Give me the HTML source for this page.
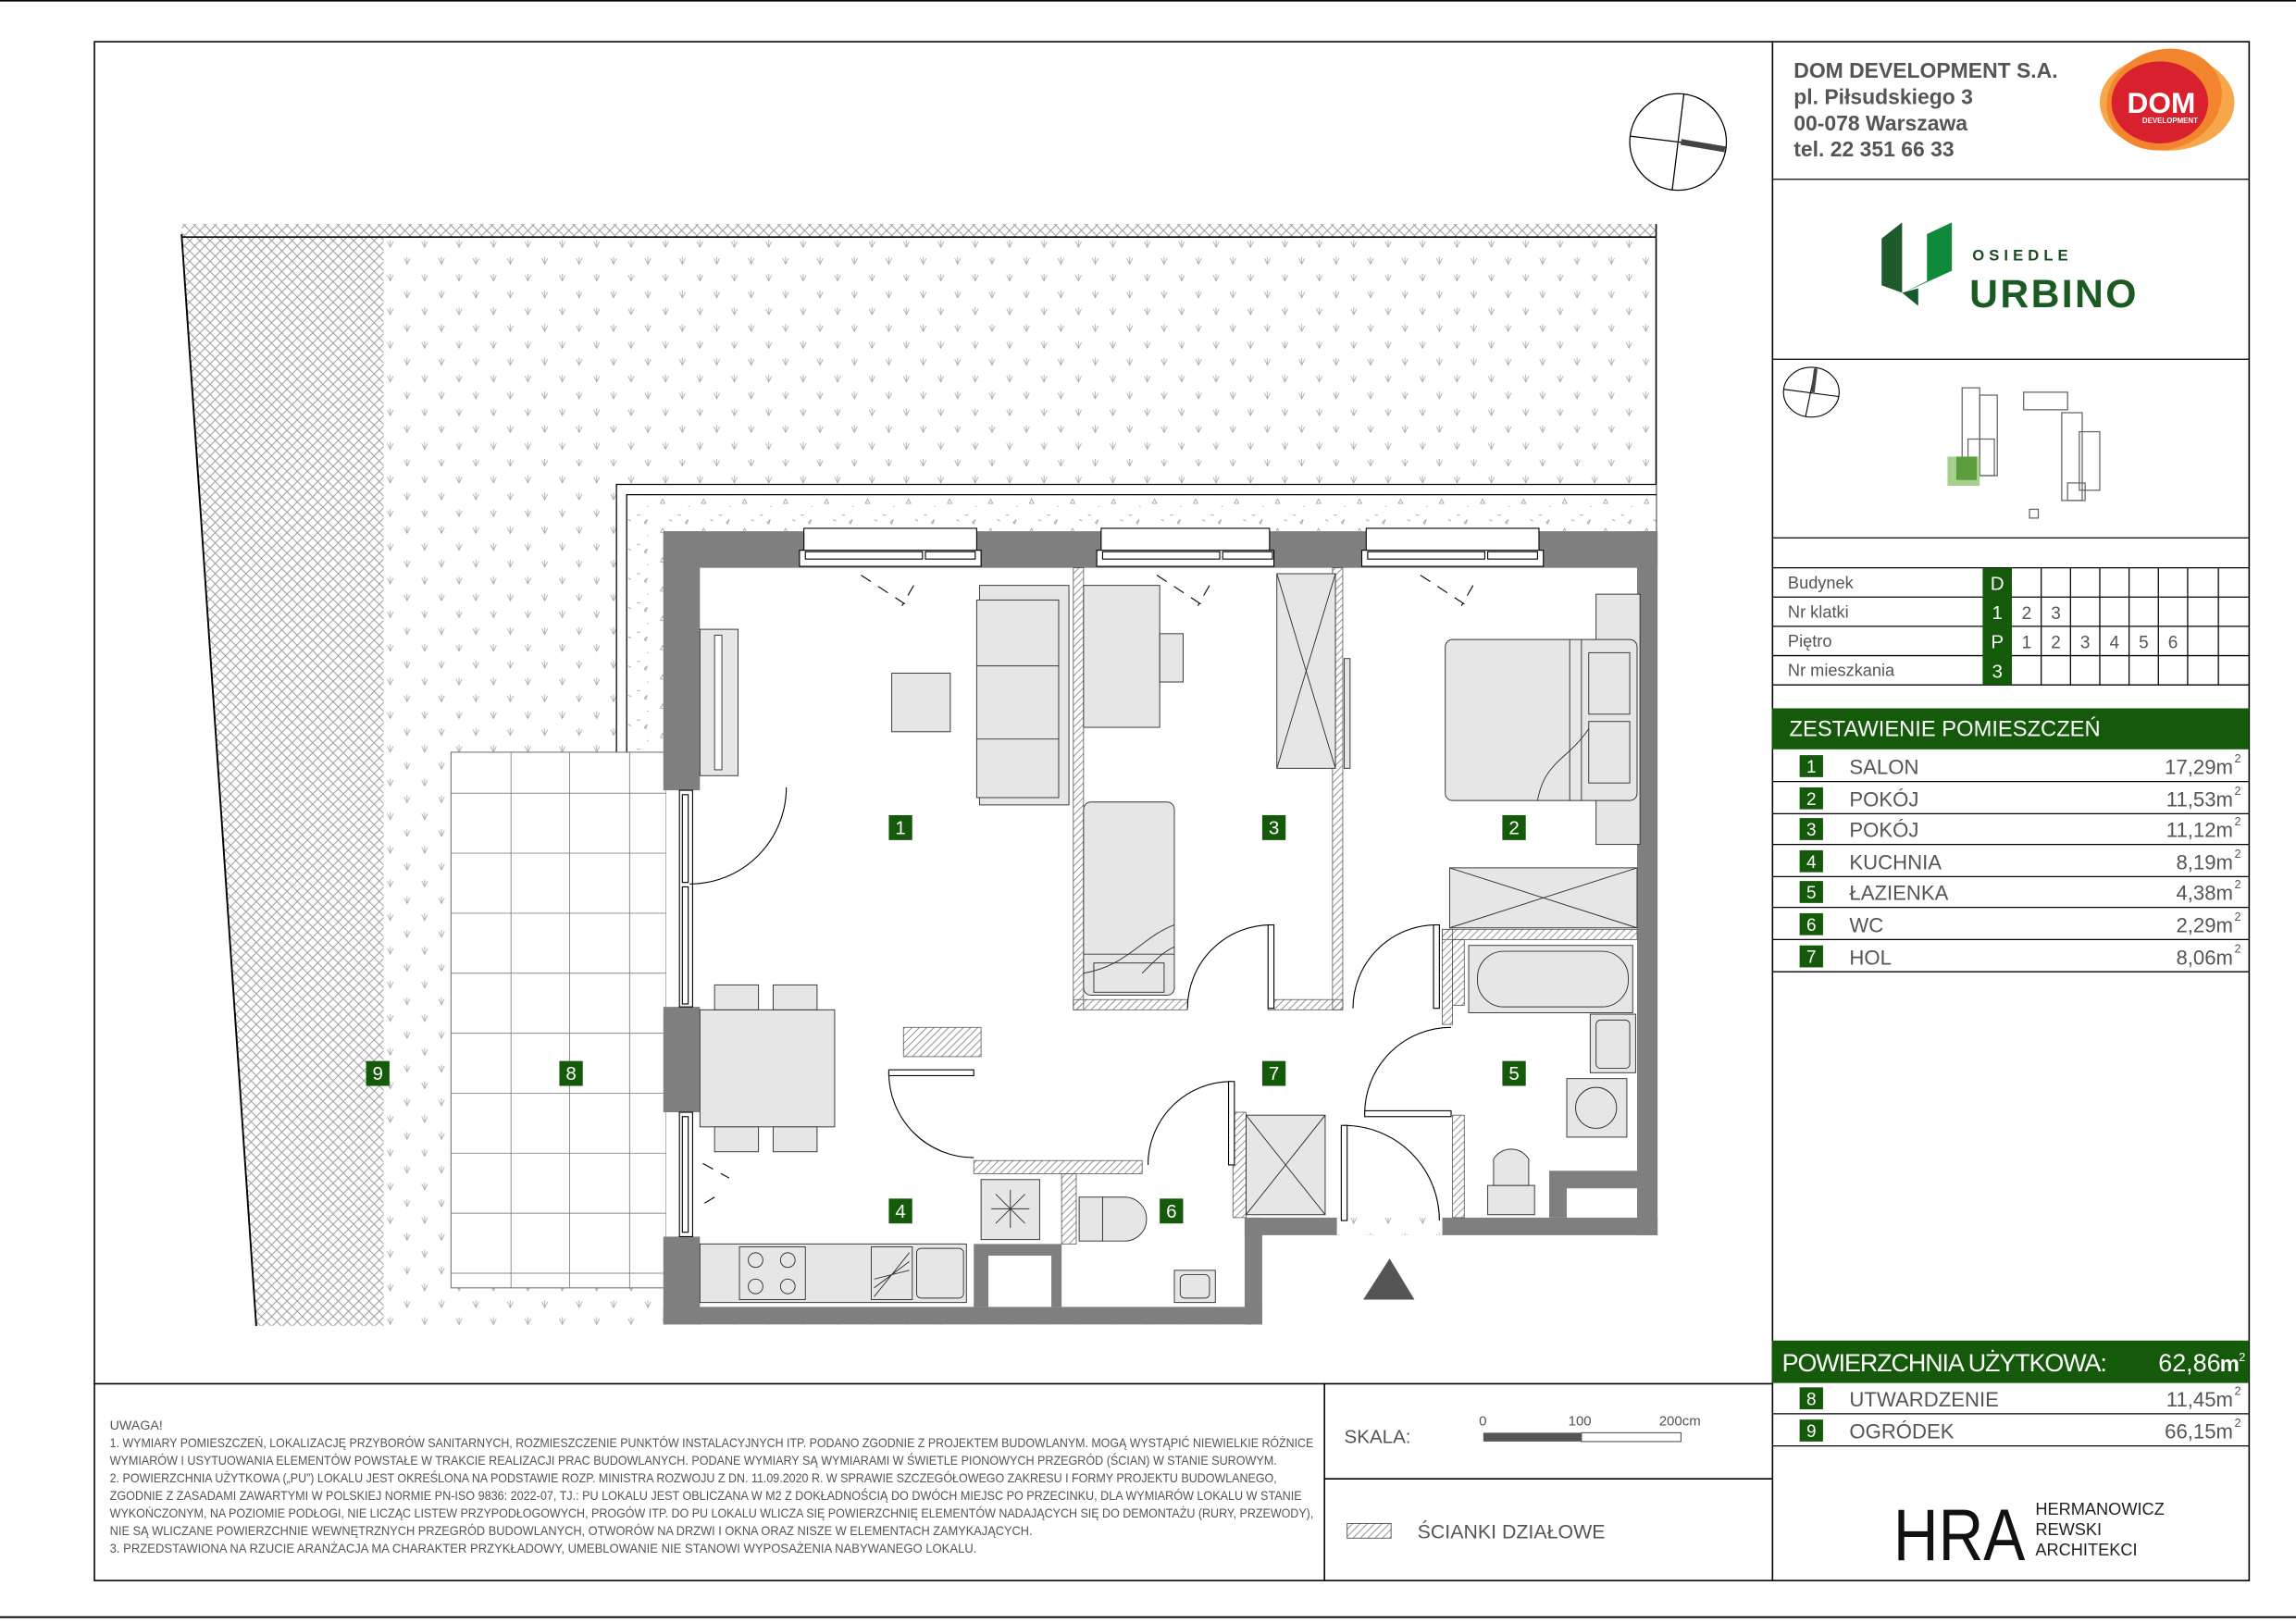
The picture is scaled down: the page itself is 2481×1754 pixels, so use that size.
<!DOCTYPE html>
<html><head><meta charset="utf-8"><style>
html,body{margin:0;padding:0;background:#fff;}
svg{display:block;}
text{font-family:"Liberation Sans",Arial,sans-serif;}
</style></head><body>
<svg width="2481" height="1754" viewBox="0 0 1568 1109" preserveAspectRatio="none" xmlns="http://www.w3.org/2000/svg">
<defs>
<pattern id="xh" width="7" height="7" patternUnits="userSpaceOnUse">
<path d="M0 0L7 7M7 0L0 7" stroke="#9a9a9a" stroke-width="0.6"/></pattern>
<pattern id="grass" width="23.5" height="23" patternUnits="userSpaceOnUse">
<path d="M6 4l2 4 2-4M8 3v5M17.5 15.5l2 4 2-4M19.5 14.5v5" stroke="#aaa" stroke-width="0.55" fill="none"/></pattern>
<pattern id="grav" width="28" height="20" patternUnits="userSpaceOnUse">
<path d="M3 4l3 0-1.5-3zM15 12h2M22 6h1M9 15l2 1M20 17l2-2-1 3z" stroke="#999" stroke-width="0.5" fill="none"/></pattern>
<pattern id="hat" width="5" height="5" patternUnits="userSpaceOnUse">
<path d="M0 5L5 0M-1 1L1 -1M4 6L6 4" stroke="#888" stroke-width="0.6"/></pattern>
</defs>
<rect width="1568" height="1109" fill="#fff"/>
<line x1="0" y1="0.5" x2="1568" y2="0.5" stroke="#000" stroke-width="1"/>
<line x1="0" y1="1105" x2="1568" y2="1105" stroke="#000" stroke-width="1.2"/>
<rect x="64.5" y="28.5" width="1471.5" height="1051.5" fill="none" stroke="#000" stroke-width="1"/>
<line x1="1210.5" y1="28" x2="1210.5" y2="1080" stroke="#000" stroke-width="1"/>
<line x1="64" y1="945.5" x2="1210" y2="945.5" stroke="#000" stroke-width="1"/>
<line x1="904.5" y1="945" x2="904.5" y2="1080" stroke="#000" stroke-width="1"/>
<line x1="904" y1="1010.5" x2="1210" y2="1010.5" stroke="#000" stroke-width="1"/>

<!-- ===== PLAN ===== -->
<rect x="124" y="153" width="1007" height="9" fill="url(#xh)"/>
<polygon points="124,162 262,162 262,906 175,906" fill="url(#xh)"/>
<rect x="262" y="162" width="869" height="744" fill="url(#grass)"/>
<rect x="862" y="844" width="270" height="63" fill="#fff"/>
<line x1="124" y1="162" x2="1131" y2="162" stroke="#000" stroke-width="1"/>
<line x1="124" y1="160" x2="175" y2="906" stroke="#000" stroke-width="1.2"/>
<line x1="1131" y1="153" x2="1131" y2="367" stroke="#000" stroke-width="1"/>
<polygon points="421,514 421,331 1131,331 1131,365 455,365 455,514" fill="#fff"/>
<polygon points="428,514 428,338 1131,338 1131,365 455,365 455,514" fill="url(#grav)"/>
<polyline points="421,514 421,331 1131,331" fill="none" stroke="#000" stroke-width="0.8"/>
<polyline points="428,514 428,338 1131,338" fill="none" stroke="#000" stroke-width="0.8"/>
<rect x="308" y="514" width="147" height="366" fill="#fff" stroke="#777" stroke-width="0.7"/>
<g stroke="#888" stroke-width="0.6">
<line x1="349" y1="514" x2="349" y2="880"/><line x1="389" y1="514" x2="389" y2="880"/><line x1="430" y1="514" x2="430" y2="880"/>
<line x1="308" y1="542" x2="455" y2="542"/><line x1="308" y1="583" x2="455" y2="583"/><line x1="308" y1="624" x2="455" y2="624"/><line x1="308" y1="665" x2="455" y2="665"/><line x1="308" y1="706" x2="455" y2="706"/><line x1="308" y1="747" x2="455" y2="747"/><line x1="308" y1="788" x2="455" y2="788"/><line x1="308" y1="829" x2="455" y2="829"/><line x1="308" y1="870" x2="455" y2="870"/>
</g>
<polygon points="455,363 1132,363 1132,844 985,844 985,832 913,832 913,844 862,844 862,905 455,905" fill="#fff"/>
<g fill="#7f7f7f">
<rect x="453" y="363" width="679" height="25"/>
<rect x="453" y="363" width="25" height="177"/>
<rect x="453" y="688" width="25" height="72"/>
<rect x="453" y="845" width="25" height="60"/>
<rect x="1118" y="363" width="14" height="481"/>
<rect x="985" y="832" width="147" height="12"/>
<rect x="1058" y="800" width="60" height="32"/>
<rect x="850" y="832" width="63" height="12"/>
<rect x="850" y="832" width="12" height="73"/>
<rect x="453" y="893" width="409" height="12"/>
<rect x="665" y="850" width="60" height="43"/>
</g>
<rect x="1070" y="812" width="48" height="20" fill="#fff"/>
<rect x="675" y="858" width="43" height="35" fill="#fff"/>
<g fill="#fff" stroke="#000" stroke-width="0.7">
<rect x="549" y="361" width="118" height="16"/><rect x="546" y="376" width="124" height="11"/>
<rect x="550" y="377" width="80" height="5"/><rect x="632" y="377" width="34" height="5"/>
<rect x="752" y="361" width="115" height="16"/><rect x="749" y="376" width="121" height="11"/>
<rect x="753" y="377" width="80" height="5"/><rect x="835" y="377" width="34" height="5"/>
<rect x="933" y="361" width="118" height="16"/><rect x="930" y="376" width="124" height="11"/>
<rect x="934" y="377" width="80" height="5"/><rect x="1016" y="377" width="34" height="5"/>
<rect x="464" y="540" width="9" height="148"/><rect x="466" y="543" width="4" height="60"/><rect x="466" y="606" width="4" height="80"/>
<rect x="464" y="760" width="9" height="85"/><rect x="466" y="763" width="4" height="79"/>
</g>
<g stroke="#000" stroke-width="0.7" fill="none" stroke-dasharray="8,6">
<path d="M588 393L620 414M624 400L616 414"/><path d="M790 393L822 414M826 400L818 414"/><path d="M970 393L1002 414M1006 400L998 414"/>
<path d="M480 795L498 805M488 818L478 824"/>
</g>
<g fill="url(#hat)" stroke="#555" stroke-width="0.5">
<rect x="733" y="388" width="7" height="302"/>
<rect x="733" y="683" width="78" height="7"/>
<rect x="866" y="683" width="51" height="7"/>
<rect x="910" y="388" width="7" height="302"/>
<rect x="985" y="635" width="133" height="7"/>
<rect x="985" y="635" width="7" height="65"/>
<rect x="992" y="642" width="8" height="45"/>
<rect x="665" y="793" width="115" height="9"/>
<rect x="725" y="802" width="10" height="48"/>
<rect x="842" y="760" width="9" height="72"/>
<rect x="992" y="762" width="8" height="70"/>
<rect x="617" y="702" width="53" height="20"/>
</g>
<g fill="none" stroke="#000" stroke-width="0.7">
<path d="M537 538A66 66 0 0 1 471 604"/>
<path d="M811 689A57 57 0 0 1 868 632"/><rect x="866" y="632" width="4" height="57" fill="#fff"/>
<path d="M924 689A57 57 0 0 1 981 632"/><rect x="979" y="632" width="4" height="57" fill="#fff"/>
<path d="M991 702A59 59 0 0 0 932 761"/><rect x="932" y="759" width="59" height="4" fill="#fff"/>
<path d="M918 769A65 65 0 0 1 983 834"/><rect x="916" y="769" width="4" height="65" fill="#fff"/>
<path d="M784 796A57 57 0 0 1 841 739"/><rect x="839" y="739" width="4" height="57" fill="#fff"/>
<path d="M607 733A58 58 0 0 0 665 791"/><rect x="607" y="731" width="58" height="4" fill="#fff"/>
</g>
<g fill="#e6e6e6" stroke="#333" stroke-width="0.6">
<rect x="478" y="430" width="26" height="100"/><rect x="488" y="434" width="5" height="92" fill="#fff"/>
<rect x="609" y="460" width="40" height="40"/>
<rect x="669" y="400" width="61" height="150"/><rect x="667" y="410" width="56" height="135"/>
<line x1="667" y1="455" x2="723" y2="455"/><line x1="667" y1="505" x2="723" y2="505"/>
<rect x="478" y="690" width="92" height="80"/>
<rect x="488" y="673" width="30" height="17"/><rect x="528" y="673" width="30" height="17"/>
<rect x="488" y="770" width="30" height="17"/><rect x="528" y="770" width="30" height="17"/>
<rect x="740" y="400" width="52" height="97"/><rect x="792" y="433" width="16" height="33"/>
<rect x="740" y="548" width="62" height="132" rx="5"/><line x1="740" y1="652" x2="802" y2="652"/><rect x="747" y="658" width="48" height="20"/>
<path d="M740 665C770 660 780 640 802 632M780 665C790 655 795 650 802 647" fill="none"/>
<rect x="872" y="392" width="40" height="133"/><path d="M872 392L912 525M912 392L872 525" fill="none"/>
<rect x="918" y="450" width="4" height="75"/>
<rect x="1090" y="406" width="30" height="171"/>
<rect x="987" y="437" width="131" height="110" rx="5"/>
<line x1="1080" y1="437" x2="1080" y2="547"/><line x1="1072" y1="437" x2="1072" y2="547"/>
<rect x="1085" y="446" width="28" height="42"/><rect x="1085" y="493" width="28" height="42"/>
<path d="M1050 547C1055 520 1070 520 1085 498" fill="none"/>
<rect x="990" y="593" width="128" height="41"/><path d="M990 593L1118 634M1118 593L990 634" fill="none"/>
<rect x="1003" y="646" width="112" height="46"/><rect x="1009" y="650" width="103" height="38" rx="18"/>
<rect x="1086" y="693" width="31" height="40"/><rect x="1090" y="697" width="23" height="33" rx="3"/>
<rect x="1070" y="737" width="41" height="40"/><circle cx="1090" cy="757" r="14"/>
<rect x="1016" y="810" width="32" height="20"/><path d="M1020 810V792A14 14 0 0 1 1044 792V810Z"/>
<rect x="851" y="762" width="54" height="68"/><path d="M851 762L905 830M905 762L851 830" fill="none"/>
<rect x="737" y="818" width="16" height="30"/><path d="M753 818H768A15 15 0 0 1 768 848H753Z"/>
<rect x="802" y="868" width="28" height="22"/><rect x="806" y="871" width="20" height="16" rx="3"/>
<rect x="478" y="850" width="182" height="40"/>
<rect x="505" y="852" width="45" height="36"/>
<circle cx="516" cy="861" r="5"/><circle cx="538" cy="861" r="5"/><circle cx="516" cy="879" r="5"/><circle cx="538" cy="879" r="5"/>
<rect x="595" y="852" width="28" height="36"/><path d="M597 886L621 856M597 880L621 862M597 874L621 868" fill="none"/>
<rect x="626" y="853" width="32" height="34" rx="3"/>
<rect x="670" y="806" width="40" height="41"/><path d="M680 816L700 836M700 816L680 836M690 813V839M677 826H703" fill="none"/>
</g>
<polygon points="931,888 949,860 966,888" fill="#555"/>
<g font-size="13" fill="#fff" text-anchor="middle">
<rect x="607" y="557" width="16" height="17" fill="#145a0a"/><text x="615" y="570">1</text>
<rect x="862" y="557" width="16" height="17" fill="#145a0a"/><text x="870" y="570">3</text>
<rect x="1026" y="557" width="16" height="17" fill="#145a0a"/><text x="1034" y="570">2</text>
<rect x="862" y="725" width="16" height="17" fill="#145a0a"/><text x="870" y="738">7</text>
<rect x="1026" y="725" width="16" height="17" fill="#145a0a"/><text x="1034" y="738">5</text>
<rect x="607" y="819" width="16" height="17" fill="#145a0a"/><text x="615" y="832">4</text>
<rect x="792" y="819" width="16" height="17" fill="#145a0a"/><text x="800" y="832">6</text>
<rect x="250" y="725" width="16" height="17" fill="#145a0a"/><text x="258" y="738">9</text>
<rect x="382" y="725" width="16" height="17" fill="#145a0a"/><text x="390" y="738">8</text>
</g>
<g stroke="#000" stroke-width="0.8" fill="none">
<circle cx="1146" cy="97" r="33"/>
<line x1="1113" y1="93" x2="1179" y2="101"/><line x1="1150" y1="64" x2="1142" y2="130"/>
<line x1="1148" y1="97" x2="1178" y2="102" stroke="#444" stroke-width="4"/>
</g>

<!-- ===== RIGHT PANEL ===== -->
<g font-weight="bold" fill="#555" font-size="14.5">
<text x="1225" y="53">DOM DEVELOPMENT S.A.</text>
<text x="1225" y="71">pl. Piłsudskiego 3</text>
<text x="1225" y="89">00-078 Warszawa</text>
<text x="1225" y="107">tel. 22 351 66 33</text>
</g>
<ellipse cx="1480" cy="70" rx="46" ry="33" fill="#f7a64a"/>
<ellipse cx="1478" cy="68" rx="40" ry="34" fill="#f2852e" transform="rotate(-20 1478 68)"/>
<ellipse cx="1475" cy="70" rx="33" ry="28" fill="#d8202f"/>
<text x="1476" y="77" font-size="20" font-weight="bold" fill="#fff" text-anchor="middle">DOM</text>
<text x="1482" y="84" font-size="5" font-weight="bold" fill="#fff" text-anchor="middle">DEVELOPMENT</text>
<line x1="1210" y1="122.5" x2="1536" y2="122.5" stroke="#000" stroke-width="0.8"/>
<polygon points="1285,163 1299,152 1299,200 1285,195" fill="#1e5a2a"/>
<polygon points="1300,200 1333,185 1333,152 1316,160 1316,192 1300,200" fill="#0f8a3a"/>
<polygon points="1299,200 1310,209 1310,197" fill="#145a2a"/>
<text x="1347" y="178" font-size="10.5" font-weight="bold" fill="#1a4a20" letter-spacing="3.2">OSIEDLE</text>
<text x="1345" y="210" font-size="27" font-weight="bold" fill="#1b5a22" letter-spacing="1.5">URBINO</text>
<line x1="1210" y1="245.5" x2="1536" y2="245.5" stroke="#000" stroke-width="0.8"/>
<g stroke="#000" stroke-width="0.7" fill="none">
<ellipse cx="1237" cy="268" rx="19" ry="17"/>
<line x1="1218" y1="266" x2="1256" y2="271"/><line x1="1240" y1="251" x2="1233" y2="285"/>
<line x1="1238" y1="268" x2="1240" y2="252" stroke="#444" stroke-width="2.5"/>
</g>
<g fill="none" stroke="#666" stroke-width="0.8">
<rect x="1340" y="265" width="12" height="60"/><rect x="1352" y="270" width="12" height="55"/><rect x="1344" y="300" width="18" height="25"/>
<rect x="1382" y="268" width="30" height="12"/>
<rect x="1408" y="282" width="14" height="60"/><rect x="1420" y="295" width="14" height="40"/><rect x="1412" y="330" width="12" height="12"/>
<rect x="1386" y="348" width="6" height="6"/>
</g>
<rect x="1330" y="312" width="22" height="20" fill="#a9cf8f"/><rect x="1336" y="312" width="14" height="16" fill="#5c9d3d"/>
<line x1="1210" y1="367.5" x2="1536" y2="367.5" stroke="#000" stroke-width="0.8"/>
<g stroke="#000" stroke-width="0.8">
<line x1="1210" y1="388" x2="1536" y2="388"/><line x1="1210" y1="408" x2="1536" y2="408"/>
<line x1="1210" y1="428" x2="1536" y2="428"/><line x1="1210" y1="448" x2="1536" y2="448"/><line x1="1210" y1="468" x2="1536" y2="468"/>
<line x1="1394" y1="388" x2="1394" y2="468"/><line x1="1414" y1="388" x2="1414" y2="468"/><line x1="1434" y1="388" x2="1434" y2="468"/><line x1="1454" y1="388" x2="1454" y2="468"/><line x1="1474" y1="388" x2="1474" y2="468"/><line x1="1494" y1="388" x2="1494" y2="468"/><line x1="1515" y1="388" x2="1515" y2="468"/>
</g>
<rect x="1354" y="388" width="20" height="80" fill="#145a0a"/>
<g font-size="11.5" fill="#555">
<text x="1221" y="402">Budynek</text><text x="1221" y="422">Nr klatki</text><text x="1221" y="442">Piętro</text><text x="1221" y="462">Nr mieszkania</text>
</g>
<g font-size="13" fill="#fff" text-anchor="middle"><text x="1364" y="403">D</text><text x="1364" y="423">1</text><text x="1364" y="443">P</text><text x="1364" y="463">3</text></g>
<g font-size="12" fill="#555" text-anchor="middle">
<text x="1384" y="423">2</text><text x="1404" y="423">3</text>
<text x="1384" y="443">1</text><text x="1404" y="443">2</text><text x="1424" y="443">3</text><text x="1444" y="443">4</text><text x="1464" y="443">5</text><text x="1484" y="443">6</text>
</g>
<rect x="1210" y="484" width="326" height="28" fill="#145a0a"/>
<text x="1222" y="503" font-size="15" fill="#fff">ZESTAWIENIE POMIESZCZEŃ</text>
<g stroke="#000" stroke-width="0.8">
<line x1="1210" y1="534" x2="1536" y2="534"/><line x1="1210" y1="556" x2="1536" y2="556"/><line x1="1210" y1="577" x2="1536" y2="577"/><line x1="1210" y1="599" x2="1536" y2="599"/><line x1="1210" y1="620" x2="1536" y2="620"/><line x1="1210" y1="642" x2="1536" y2="642"/><line x1="1210" y1="664" x2="1536" y2="664"/>
<line x1="1210" y1="966" x2="1536" y2="966"/><line x1="1210" y1="988" x2="1536" y2="988"/>
</g>
<g fill="#145a0a">
<rect x="1229" y="516" width="16" height="15"/><rect x="1229" y="538" width="16" height="15"/><rect x="1229" y="559" width="16" height="15"/><rect x="1229" y="581" width="16" height="15"/><rect x="1229" y="602" width="16" height="15"/><rect x="1229" y="624" width="16" height="15"/><rect x="1229" y="646" width="16" height="15"/>
<rect x="1229" y="948" width="16" height="15"/><rect x="1229" y="970" width="16" height="15"/>
</g>
<g font-size="12" fill="#fff" text-anchor="middle">
<text x="1237" y="528">1</text><text x="1237" y="550">2</text><text x="1237" y="571">3</text><text x="1237" y="593">4</text><text x="1237" y="614">5</text><text x="1237" y="636">6</text><text x="1237" y="658">7</text>
<text x="1237" y="960">8</text><text x="1237" y="982">9</text>
</g>
<g font-size="14" fill="#555">
<text x="1263" y="529">SALON</text><text x="1263" y="551">POKÓJ</text><text x="1263" y="572">POKÓJ</text><text x="1263" y="594">KUCHNIA</text><text x="1263" y="615">ŁAZIENKA</text><text x="1263" y="637">WC</text><text x="1263" y="659">HOL</text>
<text x="1263" y="961">UTWARDZENIE</text><text x="1263" y="983">OGRÓDEK</text>
</g>
<g font-size="14" fill="#555" text-anchor="end">
<text x="1525" y="529">17,29m</text><text x="1525" y="551">11,53m</text><text x="1525" y="572">11,12m</text><text x="1525" y="594">8,19m</text><text x="1525" y="615">4,38m</text><text x="1525" y="637">2,29m</text><text x="1525" y="659">8,06m</text>
<text x="1525" y="961">11,45m</text><text x="1525" y="983">66,15m</text>
</g>
<g font-size="8" fill="#555">
<text x="1526" y="521">2</text><text x="1526" y="543">2</text><text x="1526" y="564">2</text><text x="1526" y="586">2</text><text x="1526" y="607">2</text><text x="1526" y="629">2</text><text x="1526" y="651">2</text>
<text x="1526" y="953">2</text><text x="1526" y="975">2</text>
</g>
<rect x="1210" y="916" width="326" height="29" fill="#145a0a"/>
<text x="1217" y="937" font-size="17" fill="#fff" textLength="222" lengthAdjust="spacing">POWIERZCHNIA UŻYTKOWA:</text>
<text x="1474" y="937" font-size="17" fill="#fff">62,86</text>
<text x="1516" y="937" font-size="15" font-weight="bold" fill="#fff">m</text><text x="1529" y="930" font-size="8" fill="#fff">2</text>
<text x="1293" y="1066" font-size="50" fill="#111" textLength="90" lengthAdjust="spacingAndGlyphs">HRA</text>
<g font-size="11.5" fill="#222"><text x="1390" y="1035">HERMANOWICZ</text><text x="1390" y="1049">REWSKI</text><text x="1390" y="1063">ARCHITEKCI</text></g>

<!-- ===== BOTTOM ===== -->
<g font-size="9" fill="#555" font-family="Liberation Sans Narrow, Liberation Sans, sans-serif">
<text x="75" y="977">UWAGA!</text>
<text x="75" y="989" textLength="822" lengthAdjust="spacingAndGlyphs">1. WYMIARY POMIESZCZEŃ, LOKALIZACJĘ PRZYBORÓW SANITARNYCH, ROZMIESZCZENIE PUNKTÓW INSTALACYJNYCH ITP. PODANO ZGODNIE Z PROJEKTEM BUDOWLANYM. MOGĄ WYSTĄPIĆ NIEWIELKIE RÓŻNICE</text>
<text x="75" y="1001" textLength="797" lengthAdjust="spacingAndGlyphs">WYMIARÓW I USYTUOWANIA ELEMENTÓW POWSTAŁE W TRAKCIE REALIZACJI PRAC BUDOWLANYCH. PODANE WYMIARY SĄ WYMIARAMI W ŚWIETLE PIONOWYCH PRZEGRÓD (ŚCIAN) W STANIE SUROWYM.</text>
<text x="75" y="1013" textLength="797" lengthAdjust="spacingAndGlyphs">2. POWIERZCHNIA UŻYTKOWA („PU”) LOKALU JEST OKREŚLONA NA PODSTAWIE ROZP. MINISTRA ROZWOJU Z DN. 11.09.2020 R. W SPRAWIE SZCZEGÓŁOWEGO ZAKRESU I FORMY PROJEKTU BUDOWLANEGO,</text>
<text x="75" y="1025" textLength="814" lengthAdjust="spacingAndGlyphs">ZGODNIE Z ZASADAMI ZAWARTYMI W POLSKIEJ NORMIE PN-ISO 9836: 2022-07, TJ.: PU LOKALU JEST OBLICZANA W M2 Z DOKŁADNOŚCIĄ DO DWÓCH MIEJSC PO PRZECINKU, DLA WYMIARÓW LOKALU W STANIE</text>
<text x="75" y="1037" textLength="822" lengthAdjust="spacingAndGlyphs">WYKOŃCZONYM, NA POZIOMIE PODŁOGI, NIE LICZĄC LISTEW PRZYPODŁOGOWYCH, PROGÓW ITP. DO PU LOKALU WLICZA SIĘ POWIERZCHNIĘ ELEMENTÓW NADAJĄCYCH SIĘ DO DEMONTAŻU (RURY, PRZEWODY),</text>
<text x="75" y="1049" textLength="630" lengthAdjust="spacingAndGlyphs">NIE SĄ WLICZANE POWIERZCHNIE WEWNĘTRZNYCH PRZEGRÓD BUDOWLANYCH, OTWORÓW NA DRZWI I OKNA ORAZ NISZE W ELEMENTACH ZAMYKAJĄCYCH.</text>
<text x="75" y="1061" textLength="592" lengthAdjust="spacingAndGlyphs">3. PRZEDSTAWIONA NA RZUCIE ARANŻACJA MA CHARAKTER PRZYKŁADOWY, UMEBLOWANIE NIE STANOWI WYPOSAŻENIA NABYWANEGO LOKALU.</text>
</g>
<text x="918" y="986" font-size="13" fill="#555">SKALA:</text>
<g font-size="9.5" fill="#555"><text x="1010" y="974">0</text><text x="1071" y="974">100</text><text x="1133" y="974">200cm</text></g>
<rect x="1013" y="979" width="67" height="6" fill="#555"/>
<rect x="1080" y="979" width="68" height="6" fill="#fff" stroke="#555" stroke-width="0.7"/>
<rect x="920" y="1041" width="30" height="10" fill="url(#hat)" stroke="#555" stroke-width="0.6"/>
<text x="968" y="1051" font-size="13.5" fill="#555">ŚCIANKI DZIAŁOWE</text>
</svg>
</body></html>
